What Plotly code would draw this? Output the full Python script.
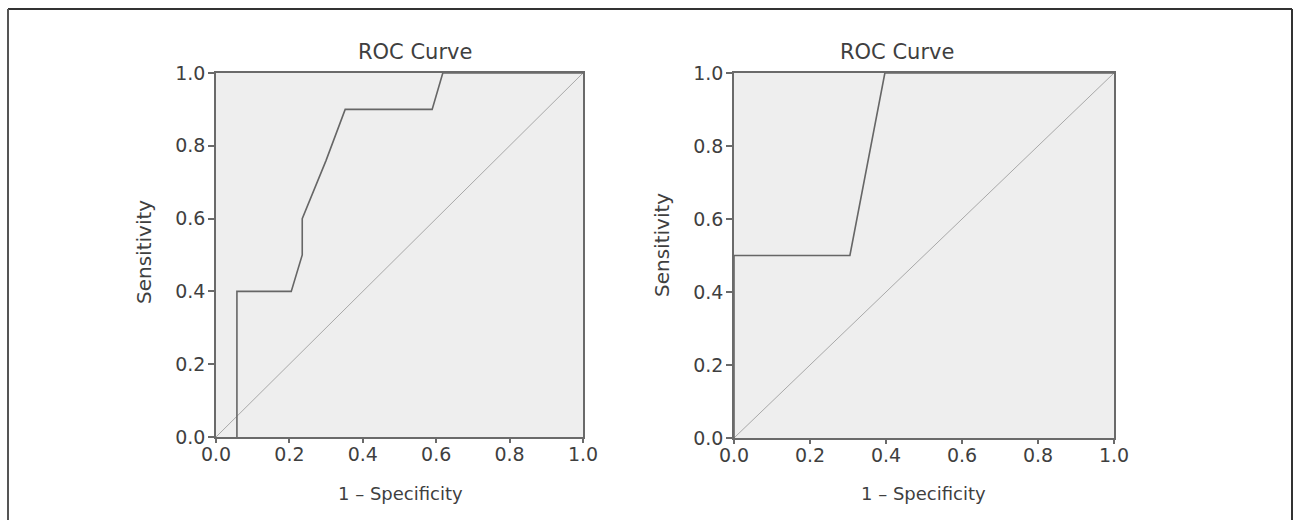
import plotly.graph_objects as go

# Data
left_fpr = [0.057, 0.057, 0.205, 0.235, 0.235, 0.26, 0.30, 0.352, 0.589, 0.618, 1.0]
left_tpr = [0.0, 0.4, 0.4, 0.5, 0.6, 0.66, 0.76, 0.9, 0.9, 1.0, 1.0]
right_fpr = [0.0, 0.0, 0.305, 0.397, 1.0]
right_tpr = [0.0, 0.5, 0.5, 1.0, 1.0]
diag = [0.0, 1.0]
ticks = [0.0, 0.2, 0.4, 0.6, 0.8, 1.0]
tick_text = ["0.0", "0.2", "0.4", "0.6", "0.8", "1.0"]

W, H = 1293, 520
FONT = "DejaVu Sans, Verdana, sans-serif"
TXT = "#3f3f3f"

def px(x):
    return x / W

def py(y):
    return 1 - y / H

fig = go.Figure()
for i, (fx, ty) in enumerate([(left_fpr, left_tpr), (right_fpr, right_tpr)]):
    xa = "x" if i == 0 else "x2"
    ya = "y" if i == 0 else "y2"
    fig.add_trace(go.Scatter(x=diag, y=diag, mode="lines", xaxis=xa, yaxis=ya,
                             line=dict(color="#a8a8a8", width=1), showlegend=False, hoverinfo="skip"))
    fig.add_trace(go.Scatter(x=fx, y=ty, mode="lines", xaxis=xa, yaxis=ya,
                             line=dict(color="#666666", width=1.6), showlegend=False))

axis_common = dict(range=[0, 1], tickvals=ticks, ticktext=tick_text, showgrid=False, zeroline=False,
                   showline=True, linecolor="#6a6a6a", linewidth=1.5, mirror=True,
                   ticks="outside", tickcolor="#6a6a6a", tickwidth=1.5,
                   tickfont=dict(family=FONT, size=19, color=TXT), automargin=False)
xax = dict(ticklen=4, ticklabelstandoff=-5, **axis_common)
yax = dict(ticklen=6, ticklabelstandoff=-1, **axis_common)

fig.update_layout(
    width=W, height=H,
    margin=dict(l=0, r=0, t=0, b=0),
    paper_bgcolor="white",
    plot_bgcolor="#eeeeee",
    xaxis=dict(domain=[px(216), px(583)], anchor="y", **xax),
    yaxis=dict(domain=[py(437), py(73)], anchor="x", **yax),
    xaxis2=dict(domain=[px(734), px(1114)], anchor="y2", **xax),
    yaxis2=dict(domain=[py(438), py(73)], anchor="x2", **yax),
    shapes=[dict(type="line", xref="paper", yref="paper", x0=px(8), x1=px(1292), y0=py(9), y1=py(9),
                 line=dict(color="#333333", width=2)),
            dict(type="line", xref="paper", yref="paper", x0=px(8), x1=px(8), y0=py(9), y1=py(525),
                 line=dict(color="#555555", width=2)),
            dict(type="line", xref="paper", yref="paper", x0=px(1292), x1=px(1292), y0=py(9), y1=py(525),
                 line=dict(color="#333333", width=2))],
)

annotations = [
    dict(text="ROC Curve", x=px(415), y=py(52), size=21),
    dict(text="ROC Curve", x=px(897), y=py(52), size=21),
    dict(text="1 – Specificity", x=px(400), y=py(493), size=18),
    dict(text="1 – Specificity", x=px(923), y=py(493), size=18),
    dict(text="Sensitivity", x=px(144), y=py(252), textangle=-90, size=20),
    dict(text="Sensitivity", x=px(662), y=py(245), textangle=-90, size=20),
]
for a in annotations:
    size = a.pop("size")
    fig.add_annotation(xref="paper", yref="paper", showarrow=False, xanchor="center", yanchor="middle",
                       font=dict(family=FONT, size=size, color=TXT), **a)

fig.write_html("out.html", config={"displayModeBar": False},
               post_script="document.body.style.margin='0px';document.body.style.overflow='hidden';")
